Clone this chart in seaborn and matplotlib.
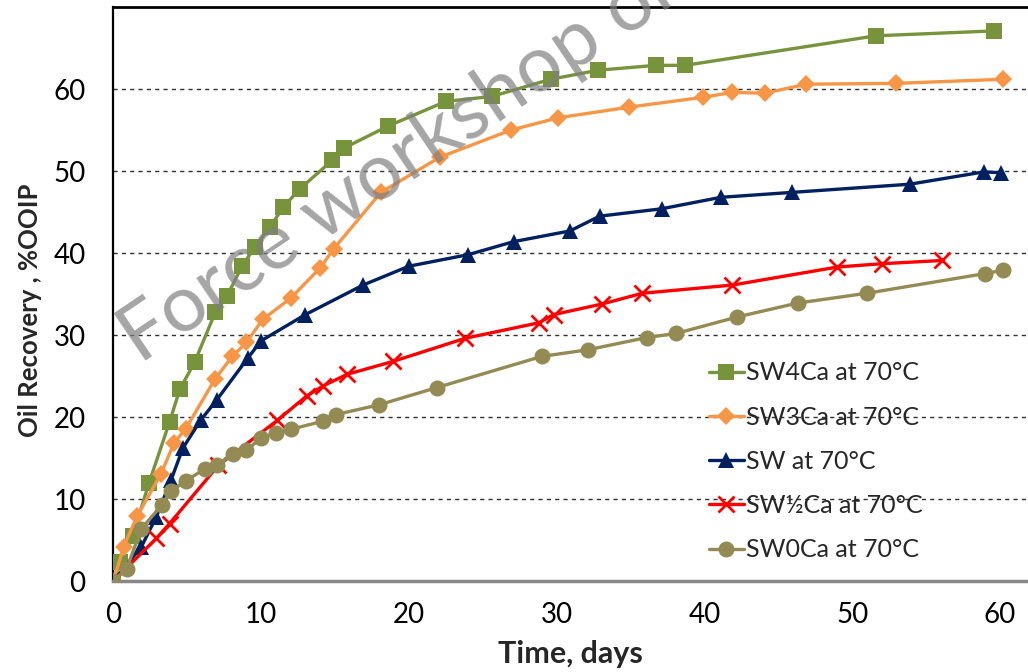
import matplotlib
matplotlib.use("Agg")
import matplotlib.pyplot as plt
import seaborn as sns

# (days, %OOIP)
sw4ca_t = [0, 0.45, 1.3, 2.4, 3.8, 4.5, 5.5, 6.9, 7.7, 8.7, 9.6, 10.6, 11.5, 12.6,
           14.8, 15.6, 18.6, 22.5, 25.6, 29.6, 32.8, 36.7, 38.7, 51.6, 59.6]
sw4ca_r = [0, 2.3, 5.5, 11.9, 19.4, 23.4, 26.7, 32.8, 34.8, 38.4, 40.8, 43.2, 45.6, 47.8,
           51.3, 52.8, 55.5, 58.5, 59.1, 61.2, 62.3, 62.9, 62.9, 66.5, 67.1]

sw3ca_t = [0, 0.7, 1.6, 3.2, 4.1, 4.9, 6.9, 8.05, 9.0, 10.1, 12.0, 14.0, 14.9, 18.1,
           22.1, 26.9, 30.1, 34.9, 39.9, 41.9, 44.1, 46.9, 53.0, 60.2]
sw3ca_r = [0, 4.2, 7.9, 13.0, 16.8, 18.6, 24.7, 27.4, 29.1, 31.9, 34.5, 38.2, 40.5, 47.4,
           51.7, 55.0, 56.5, 57.8, 59.0, 59.6, 59.5, 60.6, 60.7, 61.2]

sw_t = [0, 1.9, 2.9, 3.9, 4.7, 5.9, 7.0, 9.1, 10.0, 13.0, 16.9, 20.0, 24.0, 27.1,
        30.9, 32.9, 37.1, 41.1, 45.9, 53.9, 58.9, 60.1]
sw_r = [0, 4.2, 7.8, 12.3, 16.2, 19.6, 22.1, 27.2, 29.3, 32.5, 36.1, 38.4, 39.8, 41.4,
        42.7, 44.5, 45.4, 46.8, 47.4, 48.4, 49.9, 49.8]

swhalf_t = [0, 2.9, 3.8, 7.1, 11.1, 13.1, 14.2, 15.8, 18.95, 23.8, 28.8, 29.8, 33.1,
            35.8, 41.9, 49.0, 52.0, 56.1]
swhalf_r = [0, 5.2, 7.0, 14.1, 19.6, 22.6, 23.8, 25.2, 26.8, 29.6, 31.5, 32.5, 33.8,
            35.1, 36.1, 38.3, 38.7, 39.1]

sw0ca_t = [0, 0.9, 1.9, 3.3, 3.9, 4.9, 6.2, 7.0, 8.1, 9.0, 10.0, 11.0, 12.0, 14.2,
           15.05, 18.0, 21.9, 29.0, 32.1, 36.1, 38.1, 42.2, 46.3, 51.0, 59.0, 60.2]
sw0ca_r = [0, 1.5, 6.4, 9.3, 11.0, 12.2, 13.7, 14.1, 15.5, 16.0, 17.4, 18.1, 18.5, 19.5,
           20.3, 21.5, 23.6, 27.4, 28.2, 29.7, 30.2, 32.2, 33.9, 35.1, 37.5, 37.9]

labels = ["SW4Ca at 70°C", "SW3Ca at 70°C", "SW at 70°C", "SW½Ca at 70°C", "SW0Ca at 70°C"]
xticks = [0, 10, 20, 30, 40, 50, 60]
yticks = [0, 10, 20, 30, 40, 50, 60]

sns.set_style("white")
plt.rcParams["font.family"] = ["Lato", "DejaVu Sans"]

fig = plt.figure(figsize=(10.28, 6.72), dpi=100)
ax = fig.add_axes([0.1103, 0.1354, 0.8897, 0.854])

series = [
    (sw4ca_t, sw4ca_r, "#77933C", "s", 11, 0),
    (sw3ca_t, sw3ca_r, "#F79646", "D", 9, 0),
    (sw_t, sw_r, "#002060", "^", 11, 0),
    (swhalf_t, swhalf_r, "#FF0000", "x", 11, 2),
    (sw0ca_t, sw0ca_r, "#948A54", "o", 11.5, 0),
]
for (t, r, col, mk, ms, mew), lab in zip(series, labels):
    sns.lineplot(x=t, y=r, ax=ax, color=col, marker=mk, markersize=ms,
                 markeredgewidth=mew, markeredgecolor=col, linewidth=2.4,
                 sort=False, estimator=None, label=lab, zorder=3)

ax.set_xlim(0, 61.9)
ax.set_ylim(0, 70)
ax.set_xticks(xticks)
ax.set_yticks(yticks)
ax.tick_params(axis="both", labelsize=20, colors="#808080", labelcolor="black")
ax.tick_params(axis="x", direction="out", length=8, width=1.2, pad=7)
ax.tick_params(axis="y", direction="out", length=7, width=1.2, pad=13)

for yv in yticks[1:]:
    ax.axhline(yv, color="#303030", linestyle=(0, (3, 3)), linewidth=1, zorder=1)

ax.spines["left"].set_color("black")
ax.spines["left"].set_linewidth(1.6)
ax.spines["top"].set_color("black")
ax.spines["top"].set_linewidth(2)
ax.spines["bottom"].set_color("#888888")
ax.spines["bottom"].set_linewidth(2.5)
ax.spines["right"].set_visible(False)

ax.set_xlabel("Time, days", fontsize=22, fontweight="bold")
ax.set_ylabel("Oil Recovery , %OOIP", fontsize=18.5, fontweight="bold")
ax.xaxis.set_label_coords(0.5, -0.103)
ax.yaxis.set_label_coords(-0.078, 0.472)

leg = ax.legend(loc="upper left", bbox_to_anchor=(0.64, 0.40), frameon=False,
                fontsize=18, handlelength=1.4, handletextpad=0.1,
                labelspacing=0.85, borderaxespad=0)

# watermark
ax.text(140, 308, "Force workshop only", transform=None, fontsize=57,
        family="Lato", color="#7f7f7f", alpha=0.7, rotation=34,
        rotation_mode="anchor", ha="left", va="baseline", zorder=5)

fig.savefig("out.png", dpi=100)
